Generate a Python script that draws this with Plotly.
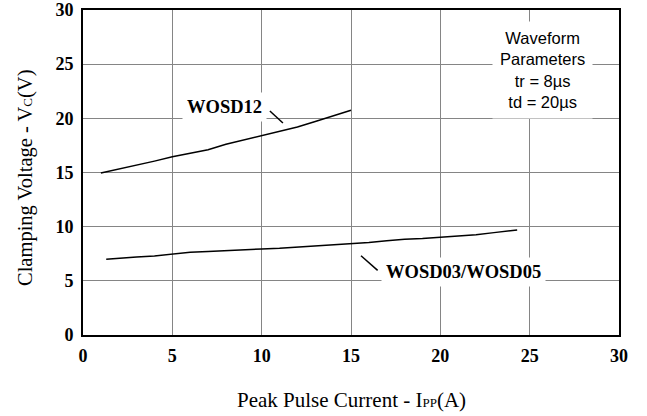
import plotly.graph_objects as go

# Data
wosd12_x = [1, 2, 3, 4, 5, 6, 7, 8, 9, 10, 11, 12, 13, 14, 15]
wosd12_y = [14.95, 15.3, 15.7, 16.05, 16.45, 16.8, 17.1, 17.6, 18.0, 18.45, 18.85, 19.2, 19.7, 20.2, 20.75]

wosd0305_x = [1.3, 2, 3, 4, 5, 6, 7, 8, 9, 10, 11, 12, 13, 14, 15, 16, 17, 18, 19, 20, 21, 22, 23, 24.3]
wosd0305_y = [7.0, 7.1, 7.2, 7.3, 7.45, 7.65, 7.7, 7.8, 7.85, 7.95, 8.0, 8.1, 8.2, 8.35, 8.45,
              8.55, 8.7, 8.85, 8.9, 9.0, 9.1, 9.25, 9.45, 9.7]

x_ticks = [0, 5, 10, 15, 20, 25, 30]
y_ticks = [0, 5, 10, 15, 20, 25, 30]

label12 = "WOSD12"
label0305 = "WOSD03/WOSD05"
label12_pos = (7.9, 21.05)
label0305_pos = (21.3, 5.85)
leader12 = (10.46, 20.68, 11.19, 19.57)
leader0305 = (15.56, 7.32, 16.49, 5.97)
wave_text = "Waveform<br>Parameters<br>tr = 8µs<br>td = 20µs"
wave_pos = (25.7, 24.5)

x_title = 'Peak Pulse Current - I<span style="font-size:13px">PP</span>(A)'
y_title = 'Clamping Voltage - V<span style="font-size:13px">C</span>(V)'

serif = "Liberation Serif"
sans = "Liberation Sans"

fig = go.Figure()
fig.add_trace(go.Scatter(x=wosd12_x, y=wosd12_y, mode="lines",
                         line=dict(color="black", width=1.5), showlegend=False))
fig.add_trace(go.Scatter(x=wosd0305_x, y=wosd0305_y, mode="lines",
                         line=dict(color="black", width=1.5), showlegend=False))

for (x0, y0, x1, y1) in [leader12, leader0305]:
    fig.add_shape(type="line", x0=x0, y0=y0, x1=x1, y1=y1, xref="x", yref="y",
                  line=dict(color="black", width=1.5))

fig.add_annotation(x=label12_pos[0], y=label12_pos[1], text="<b>%s</b>" % label12,
                   showarrow=False, bgcolor="white", borderpad=4,
                   font=dict(family=serif, size=18.5, color="black"))
fig.add_annotation(x=label0305_pos[0], y=label0305_pos[1], text="<b>%s</b>" % label0305,
                   showarrow=False, bgcolor="white", borderpad=4,
                   font=dict(family=serif, size=18.5, color="black"))
fig.add_annotation(x=wave_pos[0], y=wave_pos[1], text=wave_text,
                   showarrow=False, bgcolor="white", borderpad=7,
                   font=dict(family=sans, size=16.5, color="black"))

# axis titles
fig.add_annotation(x=0.5, y=0, xref="paper", yref="paper", yshift=-65,
                   text=x_title, showarrow=False, xanchor="center", yanchor="middle",
                   font=dict(family=serif, size=21, color="black"))
fig.add_annotation(x=0, y=0.483, xref="paper", yref="paper", xshift=-58,
                   text=y_title, showarrow=False, textangle=-90,
                   xanchor="center", yanchor="middle",
                   font=dict(family=serif, size=20.5, color="black"))

fig.update_xaxes(range=[0, 30], tickvals=x_ticks, ticktext=[str(v) for v in x_ticks],
                 showgrid=True, gridcolor="#858585", gridwidth=1,
                 showline=True, linecolor="black", linewidth=2, mirror=True,
                 ticks="", zeroline=False, automargin=False, ticklabelstandoff=3,
                 tickfont=dict(family=serif, size=18, color="black", weight="bold"))
fig.update_yaxes(range=[0, 30], tickvals=y_ticks, ticktext=[str(v) for v in y_ticks],
                 showgrid=True, gridcolor="#858585", gridwidth=1,
                 showline=True, linecolor="black", linewidth=2, mirror=True,
                 ticks="", zeroline=False, automargin=False, ticklabelstandoff=4,
                 tickfont=dict(family=serif, size=18, color="black", weight="bold"))

fig.update_layout(width=647, height=416, plot_bgcolor="white", paper_bgcolor="white",
                  margin=dict(l=83, r=28, t=10, b=81))

fig.write_html("out.html", config={"displayModeBar": False},
               post_script="document.body.style.margin='0';document.body.style.overflow='hidden';")
